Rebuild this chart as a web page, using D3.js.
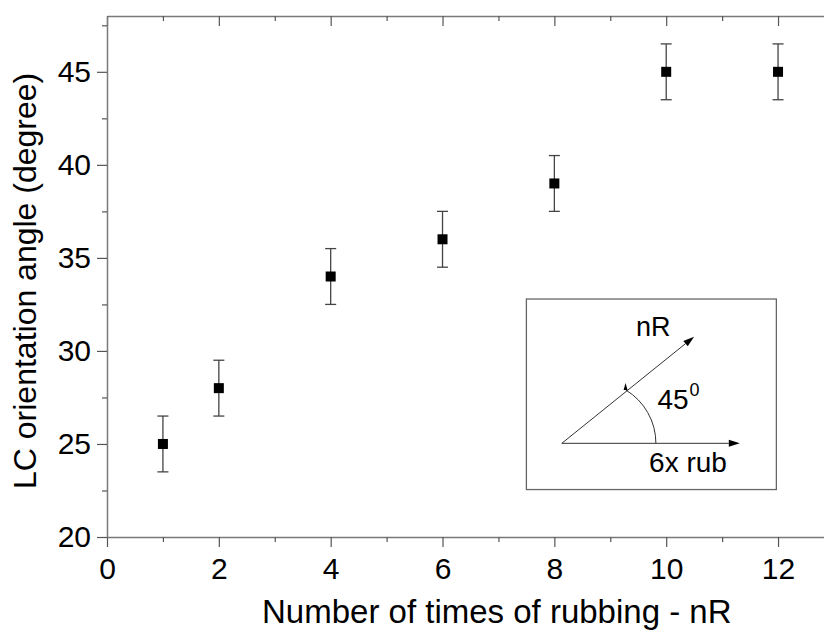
<!DOCTYPE html>
<html>
<head>
<meta charset="utf-8">
<script src="https://cdn.jsdelivr.net/npm/d3@7"></script>
<style>
  html, body { margin: 0; padding: 0; background: #fff; }
  svg { display: block; font-family: "Liberation Sans", Arial, sans-serif; }
</style>
</head>
<body>
<svg id="chart" width="824" height="633"></svg>
<script>
// ---- data ----
const rubbings = [1, 2, 4, 6, 8, 10, 12];
const angles   = [25, 28, 34, 36, 39, 45, 45];
const errors   = [1.5, 1.5, 1.5, 1.5, 1.5, 1.5, 1.5];
const xTicks = [0, 2, 4, 6, 8, 10, 12];
const xMinorTicks = [1, 3, 5, 7, 9, 11];
const yTicks = [20, 25, 30, 35, 40, 45];
const yMinorTicks = [22.5, 27.5, 32.5, 37.5, 42.5, 47.5];
const xTitle = "Number of times of rubbing - nR";
const yTitle = "LC orientation angle (degree)";

(function () {
const svg = d3.select("#chart");
const plotLeft = 107, plotTop = 16, plotBottom = 537;
const pxPerX = 55.92;
const x = d3.scaleLinear().domain([0, 13]).range([plotLeft, plotLeft + 13 * pxPerX]);
const y = d3.scaleLinear().domain([20, 48]).range([plotBottom, plotTop]);

const axisColor = "#7a7a7a", tickColor = "#555";

function styleAxis(g) {
  g.select(".domain").attr("stroke", axisColor).attr("stroke-width", 1.5);
  g.selectAll(".tick line").attr("stroke", tickColor).attr("stroke-width", 1.2);
  g.selectAll("text").attr("fill", "#000").attr("font-family", "'Liberation Sans', Arial, sans-serif");
}

// bottom axis
const gx = svg.append("g").attr("transform", `translate(0,${plotBottom})`)
  .call(d3.axisBottom(x).tickValues(xTicks).tickSize(10).tickPadding(11).tickSizeOuter(0))
  .call(styleAxis);
gx.selectAll("text").attr("font-size", 30);
svg.append("g").attr("transform", `translate(0,${plotBottom})`)
  .call(d3.axisBottom(x).tickValues(xMinorTicks).tickSize(5).tickFormat("").tickSizeOuter(0))
  .call(styleAxis).select(".domain").remove();

// top axis (inward ticks)
svg.append("g").attr("transform", `translate(0,${plotTop})`)
  .call(d3.axisBottom(x).tickValues(xTicks).tickSize(10).tickFormat("").tickSizeOuter(0))
  .call(styleAxis);
svg.append("g").attr("transform", `translate(0,${plotTop})`)
  .call(d3.axisBottom(x).tickValues(xMinorTicks).tickSize(5).tickFormat("").tickSizeOuter(0))
  .call(styleAxis).select(".domain").remove();

// left axis
const gy = svg.append("g").attr("transform", `translate(${plotLeft},0)`)
  .call(d3.axisLeft(y).tickValues(yTicks).tickSize(10).tickPadding(6).tickSizeOuter(0))
  .call(styleAxis);
gy.selectAll("text").attr("font-size", 30);
svg.append("g").attr("transform", `translate(${plotLeft},0)`)
  .call(d3.axisLeft(y).tickValues(yMinorTicks).tickSize(5).tickFormat("").tickSizeOuter(0))
  .call(styleAxis).select(".domain").remove();

// axis titles
svg.append("text")
  .attr("x", 262).attr("y", 623)
  .attr("text-anchor", "start").attr("font-size", 33).attr("fill", "#000")
  .text(xTitle);
svg.append("text")
  .attr("transform", "translate(36,489) rotate(-90)")
  .attr("text-anchor", "start").attr("font-size", 32).attr("fill", "#000")
  .text(yTitle);

// error bars + markers
const pts = rubbings.map((r, i) => ({ r, a: angles[i], e: errors[i] }));
const eg = svg.append("g").attr("stroke", "#444").attr("stroke-width", 1.3);
pts.forEach(d => {
  eg.append("line").attr("x1", x(d.r)).attr("x2", x(d.r))
    .attr("y1", y(d.a - d.e)).attr("y2", y(d.a + d.e));
  [d.a - d.e, d.a + d.e].forEach(v => {
    eg.append("line").attr("x1", x(d.r) - 5.5).attr("x2", x(d.r) + 5.5)
      .attr("y1", y(v)).attr("y2", y(v));
  });
});
svg.append("g").selectAll("rect").data(pts).join("rect")
  .attr("x", d => x(d.r) - 5).attr("y", d => y(d.a) - 5)
  .attr("width", 10).attr("height", 10).attr("fill", "#000");

// ---- inset diagram ----
const inset = svg.append("g");
const bx0 = x(7.5), bx1 = x(11.97), by0 = y(32.79), by1 = y(22.55);
inset.append("rect").attr("x", bx0).attr("y", by0)
  .attr("width", bx1 - bx0).attr("height", by1 - by0)
  .attr("fill", "none").attr("stroke", "#666").attr("stroke-width", 1.3);

const ox = bx0 + 35.4, oy = by0 + 144.3; // origin of arrows
function arrow(x1, y1, x2, y2) {
  const ang = Math.atan2(y2 - y1, x2 - x1), L = 11, W = 3.5;
  const bxp = x2 - L * Math.cos(ang), byp = y2 - L * Math.sin(ang);
  inset.append("line").attr("x1", x1).attr("y1", y1).attr("x2", bxp).attr("y2", byp)
    .attr("stroke", "#333").attr("stroke-width", 1);
  const p1 = [bxp - W * Math.sin(ang), byp + W * Math.cos(ang)];
  const p2 = [bxp + W * Math.sin(ang), byp - W * Math.cos(ang)];
  inset.append("path").attr("d", `M${x2},${y2}L${p1[0]},${p1[1]}L${p2[0]},${p2[1]}Z`).attr("fill", "#000");
}
arrow(ox, oy, ox + 178, oy);
arrow(ox, oy, ox + 132.3, oy - 106.6);

// arc
const cx = ox + 31.7, r = 62.4;
const ax = cx + r, ay = oy;
const bxA = ox + 64, byA = oy - 53.3;
inset.append("path").attr("d", `M${ax},${ay} A${r},${r} 0 0 0 ${bxA},${byA}`)
  .attr("fill", "none").attr("stroke", "#333").attr("stroke-width", 1);
inset.append("path")
  .attr("d", `M${bxA - 0.3},${byA - 7} L${bxA - 2.2},${byA} L${bxA + 1.8},${byA} Z`)
  .attr("fill", "#000");

inset.append("text").attr("x", bx0 + 109.5).attr("y", by0 + 37)
  .attr("font-size", 27).attr("fill", "#000").text("nR");
const t45 = inset.append("text").attr("x", bx0 + 131).attr("y", by0 + 110)
  .attr("font-size", 28).attr("fill", "#000");
t45.append("tspan").text("45");
t45.append("tspan").attr("font-size", 18).attr("dy", -13).attr("dx", 1).text("0");
inset.append("text").attr("x", bx0 + 122.7).attr("y", by0 + 173)
  .attr("font-size", 28).attr("fill", "#000").text("6x rub");
})();
</script>
</body>
</html>
